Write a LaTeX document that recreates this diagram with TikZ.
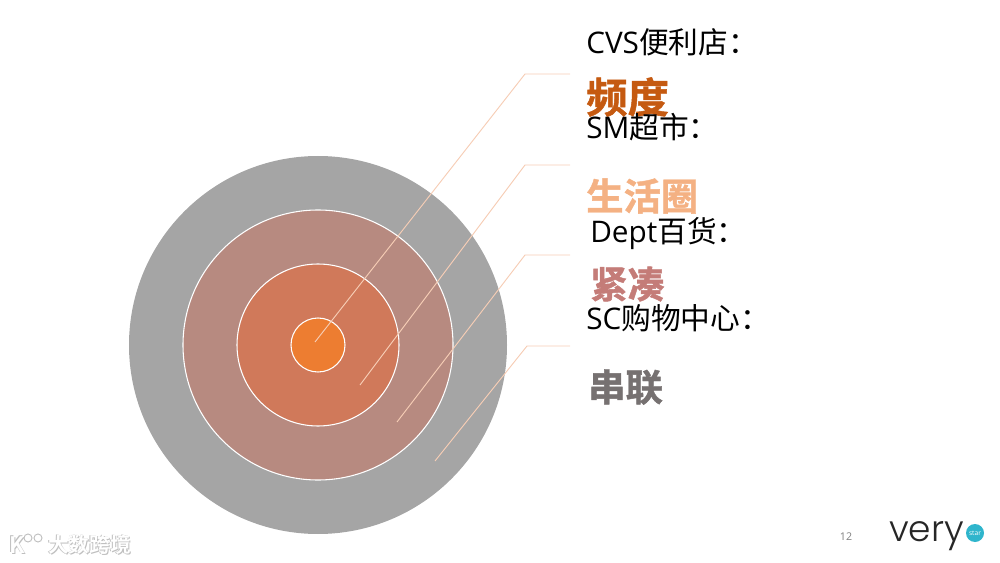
\documentclass[tikz,border=0pt]{standalone}
\usepackage{fontspec}
\setmainfont{Open Sans}
\newfontfamily\cjk{Noto Sans CJK SC}
\newfontfamily\cjkb[FakeBold=1.2]{Noto Sans CJK SC Bold}
\newfontfamily\cjkw{Noto Sans CJK SC Bold}
\newfontfamily\vfont{Poppins Light}
\definecolor{ringA}{HTML}{A5A5A5}
\definecolor{ringB}{HTML}{B78A80}
\definecolor{ringC}{HTML}{D0795A}
\definecolor{ringD}{HTML}{ED7D31}
\definecolor{leader}{HTML}{F6CDB5}
\definecolor{tA}{HTML}{C55A11}
\definecolor{tB}{HTML}{F4B183}
\definecolor{tC}{HTML}{C47C78}
\definecolor{tD}{HTML}{767171}
\definecolor{vstar}{HTML}{2FB5CC}
\tikzset{
  ring/.style={circle,draw=white,line width=0.8pt,inner sep=0pt,minimum size=#1*0.75pt},
  leaderline/.style={draw=leader,line width=0.7pt},
  head/.style={anchor=west,inner sep=0pt,text=black,font=\fontsize{22.3}{24}\selectfont},
  big/.style={anchor=west,inner sep=0pt,font=\cjkb\fontsize{#1}{#1}\selectfont},
  wmark/.style={anchor=west,inner sep=0pt,font=\cjkw\fontsize{15.5}{16}\selectfont},
  wmk/.style={anchor=west,inner sep=0pt,font=\cjkw\fontsize{17}{17}\selectfont},
  wmo/.style={circle,draw=black!25,line width=0.7pt,inner sep=0pt,minimum size=6pt},
}
\begin{document}
\begin{tikzpicture}[x=0.75pt,y=-0.75pt]
\useasboundingbox (0,0) rectangle (1000,563);
\node[ring=378,fill=ringA,draw=none] (r1) at (318,345) {};
\node[ring=270,fill=ringB] (r2) at (318,345) {};
\node[ring=162,fill=ringC] (r3) at (318,345) {};
\node[ring=54,fill=ringD] (r4) at (318,345) {};
\coordinate (a0) at (315,342); \coordinate (a1) at (525,74); \coordinate (a2) at (570,74);
\coordinate (b0) at (360,385); \coordinate (b1) at (525,165); \coordinate (b2) at (570,165);
\coordinate (c0) at (397,422); \coordinate (c1) at (525,255); \coordinate (c2) at (570,255);
\coordinate (d0) at (435,461); \coordinate (d1) at (527,346); \coordinate (d2) at (570,346);
\draw[leaderline] (a0) -- (a1) -- (a2);
\draw[leaderline] (b0) -- (b1) -- (b2);
\draw[leaderline] (c0) -- (c1) -- (c2);
\draw[leaderline] (d0) -- (d1) -- (d2);
\node[big=31,text=tA] (f1) at (586,97) {频度};
\node[big=28,text=tB] (f2) at (586,196) {生活圈};
\node[big=28,text=tC] (f3) at (590,284) {紧凑};
\node[big=28,text=tD] (f4) at (588,387) {串联};
\node[head] (h1) at (586,42) {CVS\cjk 便利店：};
\node[head] (h2) at (586,127) {SM\cjk 超市：};
\node[head] (h3) at (590,234) {Dept\cjk 百货：};
\node[head] (h4) at (586,318) {SC\cjk 购物中心：};
\node[inner sep=0pt,text=gray,font=\fontsize{8}{9}\selectfont] (pg) at (846,537) {12};
\node[anchor=west,inner sep=0pt,text=black!85,font=\vfont\fontsize{27}{27}\selectfont] (v) at (889,536) {very};
\node[circle,fill=vstar,inner sep=0pt,minimum size=13.5pt] (s) at (975,533) {};
\node[inner sep=0pt,text=white,font=\fontsize{5}{6}\selectfont] (st) at (s.center) {star};
% watermark
\node[wmark,text=black!25] (wmS) at (48.8,545.8) {大数跨境};
\node[wmark,text=black!25] (wmT) at (47.3,544.3) {大数跨境};
\node[wmark,text=white] (wm) at (48,545) {大数跨境};
\node[wmk,text=black!25] (wkS) at (9.8,545.8) {K};
\node[wmk,text=black!25] (wkT) at (8.3,544.3) {K};
\node[wmk,text=white] (wk) at (9,545) {K};
\node[wmo] (wo1) at (28,538) {};
\node[wmo] (wo2) at (38,538) {};
\end{tikzpicture}
\end{document}
